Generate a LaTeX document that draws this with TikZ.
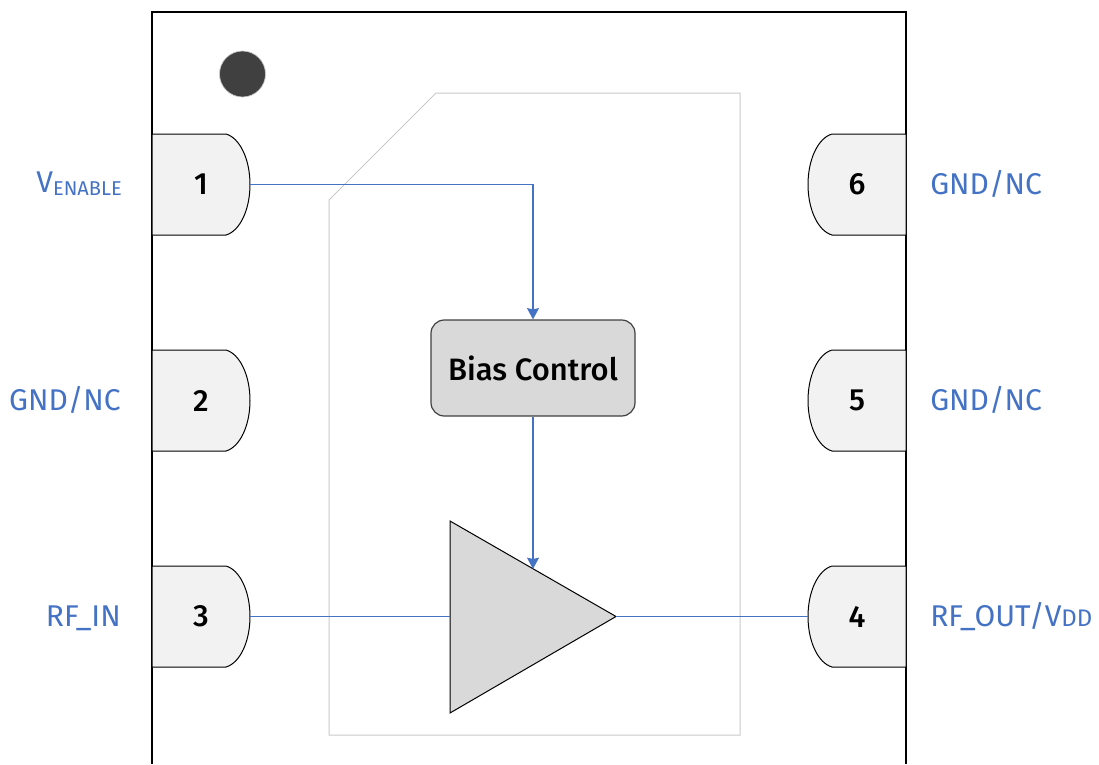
\documentclass[tikz,border=0pt]{standalone}
\usepackage{fontspec}
\setmainfont{Fira Sans}
\newfontfamily\medfont{Fira Sans Medium}
\usepackage{tikz}
\usetikzlibrary{arrows.meta,calc}
\definecolor{lblblue}{HTML}{4472C4}
\definecolor{pingray}{HTML}{F2F2F2}
\definecolor{boxgray}{HTML}{D9D9D9}
\definecolor{diegray}{HTML}{C9C9C9}
\definecolor{dotgray}{HTML}{404040}
\tikzstyle{pin}     = [rectangle, minimum width=73.5pt, minimum height=75.75pt, inner sep=0pt, outer sep=0pt]
\tikzstyle{pinline} = [draw=black, fill=pingray, line width=0.75pt]
\tikzstyle{pinnum}  = [font=\medfont\fontsize{23}{28}\selectfont, text=black, inner sep=0pt]
\tikzstyle{lbl}     = [font=\fontsize{22.5}{28}\selectfont, text=lblblue, inner sep=0pt]
\tikzstyle{ptr}     = [draw=lblblue, line width=1.05pt, -{Stealth[length=8.5pt,width=9pt,inset=1pt]}]
\tikzstyle{wire}    = [draw=lblblue, line width=1.05pt]
\tikzstyle{bias}    = [rectangle, rounded corners=10pt, draw=dotgray, fill=boxgray, line width=0.9pt,
                       minimum width=153pt, minimum height=72pt, inner sep=0pt, text=black,
                       font=\medfont\fontsize{23.2}{28}\selectfont]
\newcommand{\subtxt}[2]{{\fontsize{#1}{20}\selectfont #2}}
% outline of a pin, curved side to the right
\newcommand{\pinleft}[1]{
  \draw[pinline] (#1.south west) -- (#1.north west) -- ++(74,0)
    .. controls +(14,4) and +(0,-25) .. (#1.east)
    .. controls +(0,25) and +(14,-4) .. ($(#1.south west)+(74,0)$) -- cycle;
}
% same, curved side to the left
\newcommand{\pinright}[1]{
  \draw[pinline] (#1.south east) -- (#1.north east) -- ++(-74,0)
    .. controls +(-14,4) and +(0,-25) .. (#1.west)
    .. controls +(0,25) and +(-14,-4) .. ($(#1.south east)+(-74,0)$) -- cycle;
}

\begin{document}
\begin{tikzpicture}[x=0.75pt, y=-0.75pt]
	\useasboundingbox (0,0) rectangle (1099,764);

	% package and die
	\draw[black, line width=0.9pt] (152,764) -- (152,12) -- (906,12) -- (906,764);
	\draw[diegray, line width=0.75pt] (436,93) -- (740,93) -- (740,735) -- (329,735) -- (329,200) -- cycle;
	\node[circle, fill=dotgray, draw=diegray, line width=0.5pt, minimum size=34.5pt, inner sep=0pt] (dot) at (242.5,74) {};

	\node[pin] (pin1) at (201,184.5) {};
	\node[pin] (pin2) at (201,400.5) {};
	\node[pin] (pin3) at (201,616.5) {};
	\node[pin] (pin4) at (857,616.5) {};
	\node[pin] (pin5) at (857,400.5) {};
	\node[pin] (pin6) at (857,184.5) {};
	\pinleft{pin1}
	\pinleft{pin2}
	\pinleft{pin3}
	\pinright{pin4}
	\pinright{pin5}
	\pinright{pin6}
	\node[pinnum] (n1) at (pin1) {1};
	\node[pinnum] (n2) at (pin2) {2};
	\node[pinnum] (n3) at (pin3) {3};
	\node[pinnum] (n4) at (pin4) {4};
	\node[pinnum] (n5) at (pin5) {5};
	\node[pinnum] (n6) at (pin6) {6};

	\node[lbl, anchor=base east] (l1) at (122,192.5) {V\raisebox{-2.2pt}{\subtxt{15}{ENABLE}}};
	\node[lbl, anchor=base east] (l2) at (121,410) {GND/NC};
	\node[lbl, anchor=base east] (l3) at (121,626) {RF\_IN};
	\node[lbl, anchor=base west] (l4) at (930,626) {RF\_OUT/V\subtxt{18}{DD}};
	\node[lbl, anchor=base west] (l5) at (930,194) {GND/NC};
	\node[lbl, anchor=base west] (l6) at (930,410) {GND/NC};

	% bias block and amplifier
	\node[bias] (ctrl) at (533,368) {Bias Control};
	\coordinate (ampin) at (450,616.5);
	\coordinate (ampout) at (616,616.5);
	\coordinate (amptop) at (533,569);
	\draw[black, fill=boxgray, line width=0.75pt] (450,521) -- (ampout) -- (450,713) -- cycle;

	\draw[ptr] (pin1.east) -| (ctrl.north);
	\draw[ptr] (ctrl.south) -- (amptop);
	\draw[wire] (pin3.east) -- (ampin);
	\draw[wire] (ampout) -- (pin4.west);
\end{tikzpicture}
\end{document}
